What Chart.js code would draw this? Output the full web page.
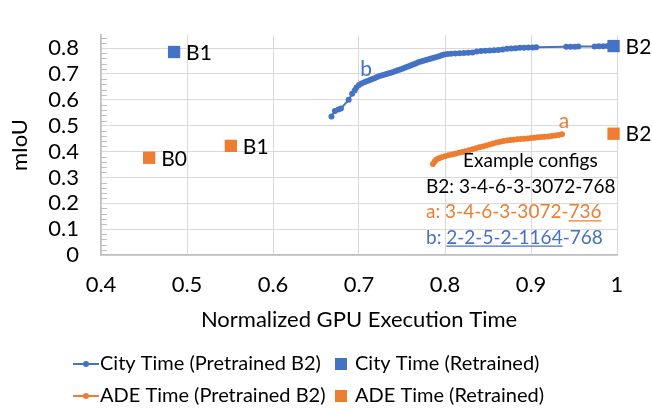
<!DOCTYPE html>
<html><head><meta charset="utf-8">
<script src="https://cdn.jsdelivr.net/npm/chart.js@4/dist/chart.umd.min.js"></script>
<style>html,body{margin:0;padding:0;background:#fff}#wrap{width:652px;height:409px}</style>
</head><body><div id="wrap"><canvas id="c" width="652" height="409"></canvas></div>
<script>
// ---------- data ----------
const seriesNames = ['City Time (Pretrained B2)', 'City Time (Retrained)', 'ADE Time (Pretrained B2)', 'ADE Time (Retrained)'];

const cityPreX = [0.668,0.672,0.676,0.679,0.688,0.692,0.695,0.697,0.700,0.703,0.706,0.709,0.712,0.715,0.718,0.721,0.724,0.727,0.730,0.733,0.736,0.739,0.742,0.745,0.748,0.751,0.754,0.757,0.760,0.763,0.766,0.769,0.772,0.775,0.778,0.781,0.784,0.787,0.790,0.793,0.796,0.799,0.803,0.807,0.812,0.817,0.822,0.827,0.832,0.837,0.842,0.847,0.852,0.857,0.862,0.867,0.872,0.877,0.882,0.887,0.892,0.897,0.902,0.906,0.941,0.946,0.951,0.955,0.974,0.979,0.984,0.989,0.996];
const cityPreY = [0.536,0.557,0.563,0.567,0.600,0.624,0.636,0.648,0.657,0.663,0.668,0.672,0.676,0.680,0.684,0.688,0.692,0.695,0.698,0.701,0.704,0.707,0.711,0.714,0.717,0.721,0.725,0.729,0.733,0.737,0.741,0.745,0.748,0.751,0.754,0.757,0.760,0.763,0.766,0.769,0.772,0.775,0.777,0.778,0.779,0.780,0.781,0.782,0.783,0.787,0.789,0.790,0.791,0.792,0.793,0.795,0.798,0.799,0.800,0.801,0.801,0.802,0.802,0.803,0.805,0.805,0.805,0.806,0.806,0.807,0.807,0.808,0.808];

const cityRetX = [0.485, 0.996];
const cityRetY = [0.785, 0.808];
const cityRetNames = ['B1', 'B2'];

const adePreX = [0.786,0.788,0.790,0.793,0.796,0.800,0.804,0.808,0.812,0.816,0.820,0.824,0.828,0.832,0.836,0.840,0.844,0.848,0.852,0.856,0.860,0.864,0.868,0.872,0.876,0.880,0.884,0.888,0.892,0.896,0.900,0.904,0.908,0.912,0.916,0.920,0.924,0.928,0.932,0.936];
const adePreY = [0.352,0.362,0.369,0.374,0.378,0.382,0.386,0.389,0.392,0.395,0.398,0.401,0.405,0.409,0.413,0.417,0.420,0.423,0.427,0.431,0.435,0.438,0.441,0.443,0.445,0.446,0.448,0.449,0.450,0.451,0.452,0.453,0.455,0.456,0.457,0.458,0.460,0.462,0.464,0.467];

const adeRetX = [0.456, 0.551, 0.996];
const adeRetY = [0.376, 0.422, 0.469];
const adeRetNames = ['B0', 'B1', 'B2'];

// tagged points: [dataset index, point index, tag]
const pointTags = [[2, adePreX.length - 1, 'a'], [0, 10, 'b']];

const xTicks = [0.4, 0.5, 0.6, 0.7, 0.8, 0.9, 1];
const yTicks = [0, 0.1, 0.2, 0.3, 0.4, 0.5, 0.6, 0.7, 0.8];
const yMinorStep = 0.02;

const configTitle = 'Example configs';
const configLines = ['B2: 3-4-6-3-3072-768', 'a: 3-4-6-3-3072-736', 'b: 2-2-5-2-1164-768'];
const configUnderline = [null, [16, 19], [3, 15]];

// ---------- style ----------
const BLUE = '#4472C4', ORANGE = '#ED7D31', GRID = '#d9d9d9', AXIS = '#bfbfbf';
const FONT = 'Lato';
Chart.defaults.font.family = FONT;
Chart.defaults.color = '#000';

const pts = (xs, ys) => xs.map((x, i) => ({x, y: ys[i]}));
const fmt = v => String(+v.toFixed(2));

const overlay = {
  id: 'overlay',
  beforeDatasetsDraw(chart) {
    const ctx = chart.ctx, ca = chart.chartArea, ys = chart.scales.y;
    ctx.save();
    ctx.strokeStyle = AXIS; ctx.lineWidth = 1;
    const n = Math.round(0.84 / yMinorStep);
    for (let i = 1; i <= n; i++) {
      if (i % 5 === 0) continue;
      const py = Math.round(ys.getPixelForValue(i * yMinorStep)) + 0.5;
      ctx.beginPath(); ctx.moveTo(ca.left, py); ctx.lineTo(ca.left + 6, py); ctx.stroke();
    }
    ctx.restore();
  },
  afterDraw(chart) {
    const ctx = chart.ctx, ca = chart.chartArea;
    ctx.save();
    // retrained labels
    ctx.font = '21px ' + FONT; ctx.fillStyle = '#000';
    ctx.textAlign = 'left'; ctx.textBaseline = 'middle';
    [[1, cityRetNames], [3, adeRetNames]].forEach(([di, names]) => {
      chart.getDatasetMeta(di).data.forEach((el, i) => ctx.fillText(names[i], el.x + 12, el.y + 1));
    });
    // tags a / b
    ctx.font = '21px ' + FONT;
    ctx.textAlign = 'center'; ctx.textBaseline = 'alphabetic';
    pointTags.forEach(([di, pi, t]) => {
      const el = chart.getDatasetMeta(di).data[pi];
      ctx.fillStyle = chart.data.datasets[di].borderColor;
      ctx.fillText(t, el.x + 2, el.y - 6);
    });
    // config text box
    ctx.font = '19px ' + FONT; ctx.textAlign = 'left'; ctx.textBaseline = 'middle';
    const bx = ca.right - 191;
    ctx.fillStyle = '#000';
    ctx.fillText(configTitle, bx + 37, 161);
    const cols = ['#000', ORANGE, BLUE];
    configLines.forEach((s, i) => {
      const y = 187 + i * 25.3;
      ctx.fillStyle = cols[i];
      ctx.fillText(s, bx, y);
      const u = configUnderline[i];
      if (u) {
        const x0 = bx + ctx.measureText(s.slice(0, u[0])).width;
        const x1 = bx + ctx.measureText(s.slice(0, u[1])).width;
        ctx.strokeStyle = cols[i]; ctx.lineWidth = 1.3;
        ctx.beginPath(); ctx.moveTo(x0, y + 8.5); ctx.lineTo(x1, y + 8.5); ctx.stroke();
      }
    });
    // legend
    ctx.font = '20px ' + FONT; ctx.textBaseline = 'middle'; ctx.textAlign = 'left';
    const rows = [364, 396], colsX = [73, 335];
    chart.data.datasets.forEach((ds, i) => {
      const y = rows[Math.floor(i / 2)], x = colsX[i % 2];
      const c = ds.borderColor;
      if (ds.showLine) {
        ctx.strokeStyle = c; ctx.lineWidth = 2;
        ctx.beginPath(); ctx.moveTo(x, y); ctx.lineTo(x + 26, y); ctx.stroke();
        ctx.fillStyle = c; ctx.beginPath(); ctx.arc(x + 13, y, 3, 0, Math.PI * 2); ctx.fill();
        ctx.fillStyle = '#000'; ctx.fillText(ds.label, x + 27, y);
      } else {
        ctx.fillStyle = c; ctx.fillRect(x, y - 6, 12, 12);
        ctx.fillStyle = '#000'; ctx.fillText(ds.label, x + 20, y);
      }
    });
    ctx.restore();
  }
};

new Chart(document.getElementById('c'), {
  type: 'scatter',
  data: {
    datasets: [
      {label: seriesNames[0], data: pts(cityPreX, cityPreY), showLine: true, borderColor: BLUE, backgroundColor: BLUE,
       borderWidth: 2, pointRadius: 3, pointBorderWidth: 0, pointHoverRadius: 3, order: 2, clip: false},
      {label: seriesNames[1], data: pts(cityRetX, cityRetY), showLine: false, borderColor: BLUE, backgroundColor: BLUE,
       pointStyle: 'rect', pointRadius: 8.7, pointBorderWidth: 0, order: 0, clip: false},
      {label: seriesNames[2], data: pts(adePreX, adePreY), showLine: true, borderColor: ORANGE, backgroundColor: ORANGE,
       borderWidth: 2, pointRadius: 3, pointBorderWidth: 0, pointHoverRadius: 3, order: 3, clip: false},
      {label: seriesNames[3], data: pts(adeRetX, adeRetY), showLine: false, borderColor: ORANGE, backgroundColor: ORANGE,
       pointStyle: 'rect', pointRadius: 8.7, pointBorderWidth: 0, order: 1, clip: false}
    ]
  },
  options: {
    responsive: false, animation: false, devicePixelRatio: 1,
    layout: {padding: {top: 8, right: 35, left: 0, bottom: 0}},
    plugins: {legend: {display: false}, tooltip: {enabled: false}},
    scales: {
      x: {
        type: 'linear', min: 0.4, max: 1,
        afterBuildTicks: s => { s.ticks = xTicks.map(v => ({value: v})); },
        afterFit: s => { s.height = 154; },
        ticks: {callback: fmt, font: {size: 22}, padding: 17, maxRotation: 0, autoSkip: false, color: '#000'},
        grid: {color: GRID, lineWidth: 1, drawTicks: false},
        border: {color: AXIS, width: 1.5},
        title: {display: true, text: 'Normalized GPU Execution Time', font: {size: 22}, color: '#000', padding: {top: 0, bottom: 76}}
      },
      y: {
        type: 'linear', min: 0, max: 0.85,
        afterBuildTicks: s => { s.ticks = yTicks.map(v => ({value: v})); },
        afterFit: s => { s.width = 101; },
        ticks: {callback: fmt, font: {size: 22}, padding: 22, autoSkip: false, color: '#000'},
        grid: {color: GRID, lineWidth: 1, drawTicks: false},
        border: {color: AXIS, width: 1.5},
        title: {display: true, text: 'mIoU', font: {size: 22}, color: '#000', padding: {top: 7, bottom: 0}}
      }
    }
  },
  plugins: [overlay]
});
</script>
</body></html>
